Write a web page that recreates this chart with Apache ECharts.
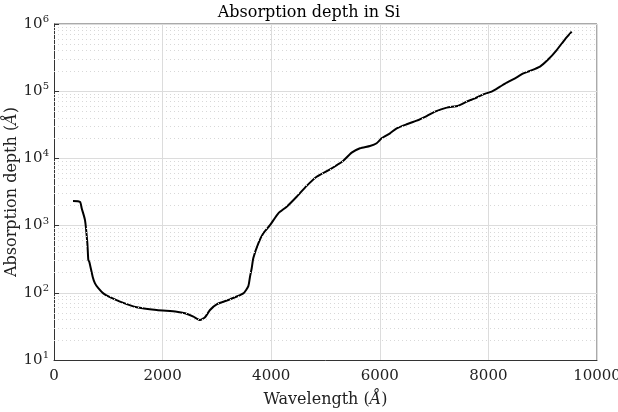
<!DOCTYPE html>
<html>
<head>
<meta charset="utf-8">
<script src="https://cdn.jsdelivr.net/npm/echarts@6/dist/echarts.min.js"></script>
<style>
  html, body { margin: 0; padding: 0; background: #fff; }
  #chart { width: 618px; height: 412px; }
</style>
</head>
<body>
<div id="chart"></div>
<script>
// --- data ---
const wavelength = [350, 480, 510, 571, 614, 632, 650, 712, 755, 816, 908, 1031, 1215, 1523, 1891, 2260, 2413, 2567, 2689, 2781, 2873, 2996, 3241, 3487, 3579, 3610, 3641, 3671, 3763, 3855, 3978, 4131, 4285, 4469, 4653, 4837, 5083, 5328, 5482, 5635, 5819, 5942, 6034, 6188, 6311, 6495, 6679, 6863, 7017, 7232, 7446, 7600, 7753, 7907, 8060, 8214, 8337, 8521, 8644, 8766, 8950, 9104, 9258, 9411, 9534];
const depth = [2320, 2250, 1810, 1210, 551, 308, 290, 174, 138, 117, 98, 86, 74, 61, 55.5, 52.4, 49.5, 44.2, 39.4, 43.2, 55.5, 67.4, 80, 98, 126, 174, 232, 330, 546, 768, 1014, 1524, 1910, 2690, 3900, 5340, 6880, 9250, 12170, 14130, 15300, 16800, 19900, 23600, 28000, 32200, 36400, 42700, 49600, 56900, 60900, 69900, 78300, 89900, 98500, 116800, 134000, 161000, 184000, 200000, 232000, 298000, 410000, 592000, 769000];
const xTicks = [0, 2000, 4000, 6000, 8000, 10000];
const yDecades = [1, 2, 3, 4, 5, 6];

const FONT = '"DejaVu Serif", "Liberation Serif", serif';

// minor (2..9 x 10^k) dotted grid lines
const minorLines = [];
yDecades.slice(0, -1).forEach(function (d) {
    for (let m = 2; m <= 9; m++) minorLines.push({ yAxis: m * Math.pow(10, d) });
});

const chart = echarts.init(document.getElementById('chart'));
chart.setOption({
    animation: false,
    backgroundColor: '#fff',
    title: {
        text: 'Absorption depth in Si',
        left: 'center', top: 0,
        textStyle: { fontFamily: FONT, fontSize: 16, fontWeight: 'normal', color: '#000' }
    },
    grid: { left: 54, right: 21, top: 24, bottom: 52, outerBoundsMode: 'none', containLabel: false },
    xAxis: {
        type: 'value', min: xTicks[0], max: xTicks[xTicks.length - 1], interval: 2000,
        name: '{n|Wavelength (}{i|Å}{n|)}', nameLocation: 'middle', nameGap: 32, nameMoveOverlap: false,
        nameTextStyle: {
            rich: {
                n: { fontFamily: FONT, fontSize: 16, color: '#222' },
                i: { fontFamily: FONT, fontSize: 16, color: '#222', fontStyle: 'italic' }
            }
        },
        axisLine: { onZero: false, lineStyle: { color: '#333', width: 1 } },
        axisTick: { show: false },
        axisLabel: { fontFamily: FONT, fontSize: 15, color: '#222', margin: 9,
            formatter: function (v) { return String(v); } },
        splitLine: { show: true, lineStyle: { color: '#dcdcdc', width: 1 } }
    },
    yAxis: {
        type: 'log', logBase: 10, min: 10, max: 1e6,
        name: '{n|Absorption depth (}{i|Å}{n|)}', nameLocation: 'middle', nameGap: 34, nameMoveOverlap: false,
        nameTextStyle: {
            rich: {
                n: { fontFamily: FONT, fontSize: 16, color: '#222' },
                i: { fontFamily: FONT, fontSize: 16, color: '#222', fontStyle: 'italic' }
            }
        },
        axisLine: { lineStyle: { color: '#333', width: 1 } },
        axisTick: { show: true, inside: true, length: 5, lineStyle: { color: '#333' } },
        axisLabel: {
            fontFamily: FONT, fontSize: 15, color: '#222', margin: 5,
            formatter: function (v) { return '10{sup|' + Math.round(Math.log10(v)) + '}'; },
            rich: { sup: { fontFamily: FONT, fontSize: 10, color: '#222', verticalAlign: 'top', padding: [0, 0, 9, 0] } }
        },
        splitLine: { show: true, lineStyle: { color: '#dcdcdc', width: 1 } }
    },
    series: [{
        type: 'line',
        data: wavelength.map(function (w, i) { return [w, depth[i]]; }),
        showSymbol: false,
        smooth: 0.2,
        lineStyle: { color: '#000', width: 2 },
        markLine: {
            silent: true, symbol: 'none', label: { show: false },
            lineStyle: { color: '#d8d8d8', type: [1, 3], width: 1 },
            data: minorLines
        },
        z: 3
    }],
    graphic: [
        // box: top and right edges
        { type: 'line', shape: { x1: 54, y1: 24, x2: 597, y2: 24 }, style: { stroke: '#555', lineWidth: 1 } },
        { type: 'line', shape: { x1: 597, y1: 24, x2: 597, y2: 360 }, style: { stroke: '#555', lineWidth: 1 } }
    ]
});
</script>
</body>
</html>
